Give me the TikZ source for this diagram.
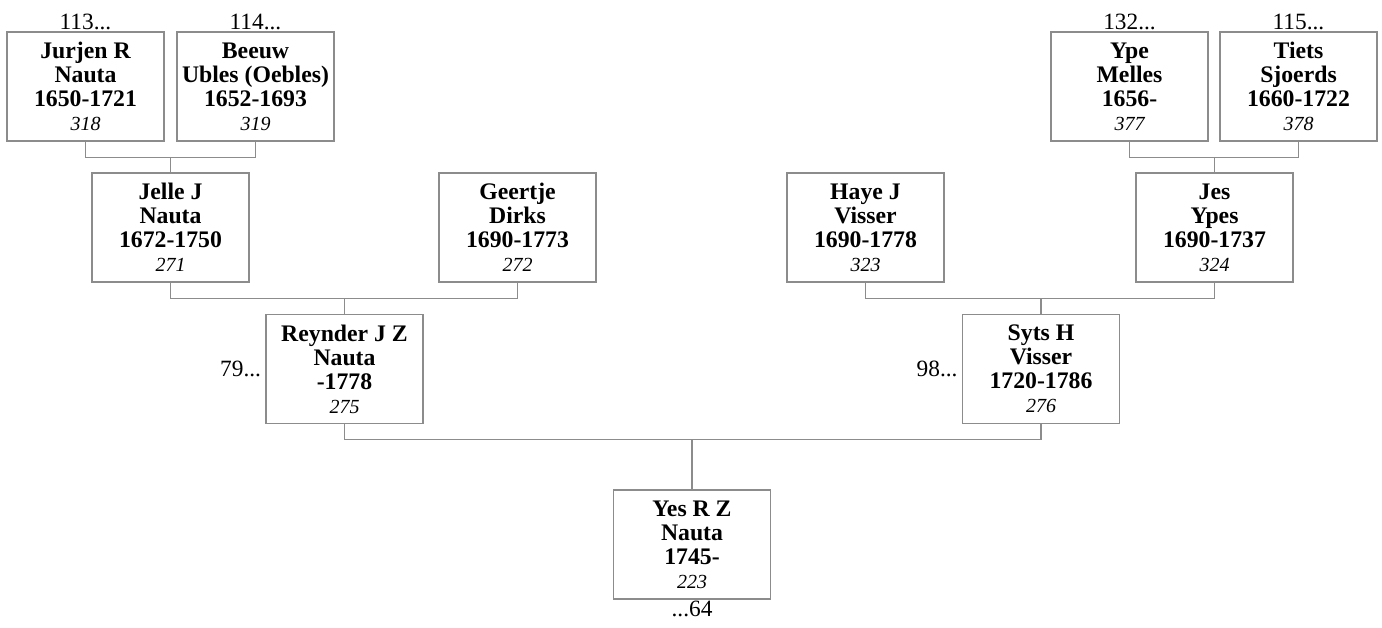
\documentclass[tikz,border=0pt]{standalone}
\usepackage{fontspec}
\setmainfont{Liberation Serif}
\usetikzlibrary{positioning}
\definecolor{linegray}{HTML}{8C8C8C}
\tikzset{
  person/.style={draw=linegray, line width=1pt, fill=white, align=center,
    minimum width=117.75pt, minimum height=81.75pt, inner sep=0pt,
    font=\bfseries\fontsize{17.8}{18}\selectfont},
  link/.style={draw=linegray, line width=1pt},
  ref/.style={inner sep=1pt, font=\fontsize{17.5}{18}\selectfont}
}
\newcommand{\idno}[1]{{\normalfont\itshape\fontsize{15}{18}\selectfont #1}}
\begin{document}
\begin{tikzpicture}[x=0.75pt, y=-0.75pt]
\useasboundingbox (0,0) rectangle (1382,628);
% grootouders
\node[person] (jurjen) at (85.5,86.5) {Jurjen R\\Nauta\\1650-1721\\\idno{318}};
\node[person] (beeuw) at (255.5,86.5) {Beeuw\\Ubles (Oebles)\\1652-1693\\\idno{319}};
\node[person] (ype) at (1129.5,86.5) {Ype\\Melles\\1656-\\\idno{377}};
\node[person] (tiets) at (1298.5,86.5) {Tiets\\Sjoerds\\1660-1722\\\idno{378}};
\node[ref, above=0pt of jurjen] (r113) {113...};
\node[ref, above=0pt of beeuw] (r114) {114...};
\node[ref, above=0pt of ype] (r132) {132...};
\node[ref, above=0pt of tiets] (r115) {115...};
% ouders
\node[person] (jelle) at (170.5,227.5) {Jelle J\\Nauta\\1672-1750\\\idno{271}};
\node[person] (geertje) at (517.5,227.5) {Geertje\\Dirks\\1690-1773\\\idno{272}};
\node[person] (haye) at (865.5,227.5) {Haye J\\Visser\\1690-1778\\\idno{323}};
\node[person] (jes) at (1214.5,227.5) {Jes\\Ypes\\1690-1737\\\idno{324}};
% kinderen
\node[person] (reynder) at (344.5,369) {Reynder J Z\\Nauta\\-1778\\\idno{275}};
\node[person] (syts) at (1041,369) {Syts H\\Visser\\1720-1786\\\idno{276}};
\node[ref, left=2pt of reynder] (r79) {79...};
\node[ref, left=2pt of syts] (r98) {98...};
\node[person] (yes) at (692,544.5) {Yes R Z\\Nauta\\1745-\\\idno{223}};
\node[ref, below=0pt of yes] (r64) {...64};
% verbindingen
\draw[link] (jurjen.south) -- ++(0,16) coordinate (b1) -| (beeuw.south);
\draw[link] (jelle.north) -- (jelle.north |- b1);
\draw[link] (ype.south) -- ++(0,16) coordinate (b2) -| (tiets.south);
\draw[link] (jes.north) -- (jes.north |- b2);
\draw[link] (jelle.south) -- ++(0,16) coordinate (b3) -| (geertje.south);
\draw[link] (reynder.north) -- (reynder.north |- b3);
\draw[link] (haye.south) -- ++(0,16) coordinate (b4) -| (jes.south);
\draw[link] (syts.north) -- (syts.north |- b4);
\draw[link] (reynder.south) -- ++(0,15) coordinate (b5) -| (syts.south);
\draw[link] (yes.north) -- (yes.north |- b5);
\end{tikzpicture}
\end{document}
